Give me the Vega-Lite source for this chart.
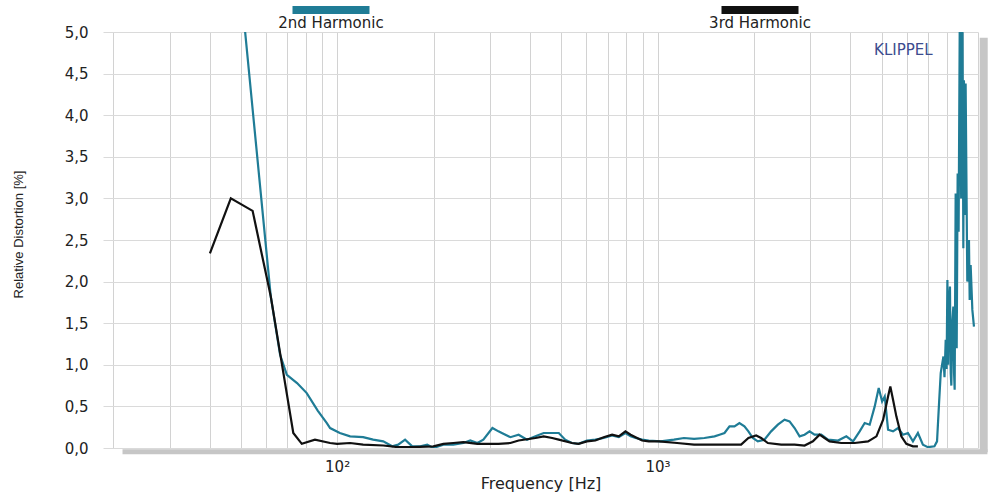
{
  "$schema": "https://vega.github.io/schema/vega-lite/v6.json",
  "width": 875,
  "height": 416,
  "autosize": {"type": "none"},
  "padding": {"left": 103, "top": 32, "right": 15, "bottom": 44},
  "background": "white",
  "config": {
    "view": {"stroke": null},
    "font": "DejaVu Sans"
  },
  "datasets": {
    "one": [{"k": 1}],
    "curves": [
      {"series": "2nd Harmonic", "f": 50, "v": 5.56},
      {"series": "2nd Harmonic", "f": 62.1, "v": 1.82},
      {"series": "2nd Harmonic", "f": 66.4, "v": 1.12},
      {"series": "2nd Harmonic", "f": 69.7, "v": 0.88},
      {"series": "2nd Harmonic", "f": 75, "v": 0.78},
      {"series": "2nd Harmonic", "f": 80.4, "v": 0.66},
      {"series": "2nd Harmonic", "f": 87, "v": 0.45},
      {"series": "2nd Harmonic", "f": 92.9, "v": 0.3},
      {"series": "2nd Harmonic", "f": 95.1, "v": 0.24},
      {"series": "2nd Harmonic", "f": 102, "v": 0.18},
      {"series": "2nd Harmonic", "f": 109.8, "v": 0.14},
      {"series": "2nd Harmonic", "f": 120.6, "v": 0.13},
      {"series": "2nd Harmonic", "f": 129.6, "v": 0.1},
      {"series": "2nd Harmonic", "f": 139.3, "v": 0.08},
      {"series": "2nd Harmonic", "f": 148.6, "v": 0.02},
      {"series": "2nd Harmonic", "f": 155.1, "v": 0.04},
      {"series": "2nd Harmonic", "f": 163, "v": 0.1},
      {"series": "2nd Harmonic", "f": 171.6, "v": 0.02},
      {"series": "2nd Harmonic", "f": 181.8, "v": 0.02},
      {"series": "2nd Harmonic", "f": 191.1, "v": 0.04},
      {"series": "2nd Harmonic", "f": 199.6, "v": 0.0},
      {"series": "2nd Harmonic", "f": 214.6, "v": 0.04},
      {"series": "2nd Harmonic", "f": 230.6, "v": 0.04},
      {"series": "2nd Harmonic", "f": 247.8, "v": 0.06},
      {"series": "2nd Harmonic", "f": 260.4, "v": 0.09},
      {"series": "2nd Harmonic", "f": 274, "v": 0.06},
      {"series": "2nd Harmonic", "f": 286, "v": 0.1},
      {"series": "2nd Harmonic", "f": 305.3, "v": 0.24},
      {"series": "2nd Harmonic", "f": 318.8, "v": 0.2},
      {"series": "2nd Harmonic", "f": 326.6, "v": 0.18},
      {"series": "2nd Harmonic", "f": 347.4, "v": 0.13},
      {"series": "2nd Harmonic", "f": 368.5, "v": 0.16},
      {"series": "2nd Harmonic", "f": 391.5, "v": 0.1},
      {"series": "2nd Harmonic", "f": 415.9, "v": 0.14},
      {"series": "2nd Harmonic", "f": 441.3, "v": 0.18},
      {"series": "2nd Harmonic", "f": 469, "v": 0.18},
      {"series": "2nd Harmonic", "f": 491.8, "v": 0.18},
      {"series": "2nd Harmonic", "f": 515.1, "v": 0.1},
      {"series": "2nd Harmonic", "f": 540.5, "v": 0.06},
      {"series": "2nd Harmonic", "f": 566.9, "v": 0.05},
      {"series": "2nd Harmonic", "f": 602, "v": 0.09},
      {"series": "2nd Harmonic", "f": 639.5, "v": 0.1},
      {"series": "2nd Harmonic", "f": 679, "v": 0.12},
      {"series": "2nd Harmonic", "f": 721.4, "v": 0.15},
      {"series": "2nd Harmonic", "f": 757, "v": 0.13},
      {"series": "2nd Harmonic", "f": 794, "v": 0.18},
      {"series": "2nd Harmonic", "f": 824, "v": 0.14},
      {"series": "2nd Harmonic", "f": 854, "v": 0.12},
      {"series": "2nd Harmonic", "f": 895, "v": 0.1},
      {"series": "2nd Harmonic", "f": 939, "v": 0.09},
      {"series": "2nd Harmonic", "f": 1022, "v": 0.08},
      {"series": "2nd Harmonic", "f": 1125, "v": 0.1},
      {"series": "2nd Harmonic", "f": 1209, "v": 0.12},
      {"series": "2nd Harmonic", "f": 1300, "v": 0.11},
      {"series": "2nd Harmonic", "f": 1400, "v": 0.12},
      {"series": "2nd Harmonic", "f": 1506, "v": 0.14},
      {"series": "2nd Harmonic", "f": 1561, "v": 0.16},
      {"series": "2nd Harmonic", "f": 1618, "v": 0.18},
      {"series": "2nd Harmonic", "f": 1677, "v": 0.26},
      {"series": "2nd Harmonic", "f": 1738, "v": 0.26},
      {"series": "2nd Harmonic", "f": 1801, "v": 0.3},
      {"series": "2nd Harmonic", "f": 1867, "v": 0.26},
      {"series": "2nd Harmonic", "f": 1921, "v": 0.2},
      {"series": "2nd Harmonic", "f": 1983, "v": 0.12},
      {"series": "2nd Harmonic", "f": 2055, "v": 0.08},
      {"series": "2nd Harmonic", "f": 2155, "v": 0.1},
      {"series": "2nd Harmonic", "f": 2262, "v": 0.2},
      {"series": "2nd Harmonic", "f": 2374, "v": 0.28},
      {"series": "2nd Harmonic", "f": 2491, "v": 0.34},
      {"series": "2nd Harmonic", "f": 2582, "v": 0.32},
      {"series": "2nd Harmonic", "f": 2677, "v": 0.24},
      {"series": "2nd Harmonic", "f": 2775, "v": 0.14},
      {"series": "2nd Harmonic", "f": 2876, "v": 0.16},
      {"series": "2nd Harmonic", "f": 2981, "v": 0.2},
      {"series": "2nd Harmonic", "f": 3090, "v": 0.16},
      {"series": "2nd Harmonic", "f": 3243, "v": 0.16},
      {"series": "2nd Harmonic", "f": 3403, "v": 0.1},
      {"series": "2nd Harmonic", "f": 3658, "v": 0.09},
      {"series": "2nd Harmonic", "f": 3883, "v": 0.14},
      {"series": "2nd Harmonic", "f": 4075, "v": 0.08},
      {"series": "2nd Harmonic", "f": 4273, "v": 0.2},
      {"series": "2nd Harmonic", "f": 4430, "v": 0.3},
      {"series": "2nd Harmonic", "f": 4592, "v": 0.28},
      {"series": "2nd Harmonic", "f": 4761, "v": 0.5},
      {"series": "2nd Harmonic", "f": 4900, "v": 0.72},
      {"series": "2nd Harmonic", "f": 5021, "v": 0.56},
      {"series": "2nd Harmonic", "f": 5116, "v": 0.62},
      {"series": "2nd Harmonic", "f": 5240, "v": 0.22},
      {"series": "2nd Harmonic", "f": 5431, "v": 0.2},
      {"series": "2nd Harmonic", "f": 5629, "v": 0.24},
      {"series": "2nd Harmonic", "f": 5834, "v": 0.16},
      {"series": "2nd Harmonic", "f": 6046, "v": 0.18},
      {"series": "2nd Harmonic", "f": 6266, "v": 0.08},
      {"series": "2nd Harmonic", "f": 6494, "v": 0.18},
      {"series": "2nd Harmonic", "f": 6731, "v": 0.04},
      {"series": "2nd Harmonic", "f": 6976, "v": 0.01},
      {"series": "2nd Harmonic", "f": 7313, "v": 0.02},
      {"series": "2nd Harmonic", "f": 7450, "v": 0.08},
      {"series": "2nd Harmonic", "f": 7559, "v": 0.54},
      {"series": "2nd Harmonic", "f": 7650, "v": 0.9},
      {"series": "2nd Harmonic", "f": 7800, "v": 1.1},
      {"series": "2nd Harmonic", "f": 7860, "v": 0.85},
      {"series": "2nd Harmonic", "f": 7929, "v": 1.3},
      {"series": "2nd Harmonic", "f": 7980, "v": 0.95},
      {"series": "2nd Harmonic", "f": 8026, "v": 2.02},
      {"series": "2nd Harmonic", "f": 8070, "v": 1.0},
      {"series": "2nd Harmonic", "f": 8110, "v": 1.7},
      {"series": "2nd Harmonic", "f": 8175, "v": 1.94},
      {"series": "2nd Harmonic", "f": 8220, "v": 0.9},
      {"series": "2nd Harmonic", "f": 8257, "v": 0.75},
      {"series": "2nd Harmonic", "f": 8310, "v": 1.5},
      {"series": "2nd Harmonic", "f": 8376, "v": 1.7},
      {"series": "2nd Harmonic", "f": 8420, "v": 0.9},
      {"series": "2nd Harmonic", "f": 8456, "v": 0.7},
      {"series": "2nd Harmonic", "f": 8517, "v": 3.06},
      {"series": "2nd Harmonic", "f": 8580, "v": 1.2},
      {"series": "2nd Harmonic", "f": 8640, "v": 3.3},
      {"series": "2nd Harmonic", "f": 8700, "v": 2.6},
      {"series": "2nd Harmonic", "f": 8785, "v": 5.6},
      {"series": "2nd Harmonic", "f": 8860, "v": 3.0},
      {"series": "2nd Harmonic", "f": 8934, "v": 5.6},
      {"series": "2nd Harmonic", "f": 9000, "v": 2.4},
      {"series": "2nd Harmonic", "f": 9039, "v": 4.42},
      {"series": "2nd Harmonic", "f": 9100, "v": 2.8},
      {"series": "2nd Harmonic", "f": 9149, "v": 4.38},
      {"series": "2nd Harmonic", "f": 9260, "v": 2.0},
      {"series": "2nd Harmonic", "f": 9371, "v": 2.5},
      {"series": "2nd Harmonic", "f": 9420, "v": 1.78},
      {"series": "2nd Harmonic", "f": 9485, "v": 2.2},
      {"series": "2nd Harmonic", "f": 9602, "v": 1.66},
      {"series": "2nd Harmonic", "f": 9714, "v": 1.46},
      {"series": "3rd Harmonic", "f": 40.1, "v": 2.34},
      {"series": "3rd Harmonic", "f": 46.6, "v": 3.0},
      {"series": "3rd Harmonic", "f": 54.5, "v": 2.85},
      {"series": "3rd Harmonic", "f": 62.1, "v": 1.82},
      {"series": "3rd Harmonic", "f": 66.4, "v": 1.14},
      {"series": "3rd Harmonic", "f": 73, "v": 0.18},
      {"series": "3rd Harmonic", "f": 77.6, "v": 0.05},
      {"series": "3rd Harmonic", "f": 85.3, "v": 0.1},
      {"series": "3rd Harmonic", "f": 95.1, "v": 0.06},
      {"series": "3rd Harmonic", "f": 100, "v": 0.05},
      {"series": "3rd Harmonic", "f": 109.8, "v": 0.06},
      {"series": "3rd Harmonic", "f": 120.6, "v": 0.04},
      {"series": "3rd Harmonic", "f": 139.3, "v": 0.03},
      {"series": "3rd Harmonic", "f": 155, "v": 0.01},
      {"series": "3rd Harmonic", "f": 171.6, "v": 0.01},
      {"series": "3rd Harmonic", "f": 199.6, "v": 0.02},
      {"series": "3rd Harmonic", "f": 214.6, "v": 0.05},
      {"series": "3rd Harmonic", "f": 230.6, "v": 0.06},
      {"series": "3rd Harmonic", "f": 247.8, "v": 0.07},
      {"series": "3rd Harmonic", "f": 274, "v": 0.05},
      {"series": "3rd Harmonic", "f": 305, "v": 0.05},
      {"series": "3rd Harmonic", "f": 318.8, "v": 0.05},
      {"series": "3rd Harmonic", "f": 347.4, "v": 0.06},
      {"series": "3rd Harmonic", "f": 368.5, "v": 0.09},
      {"series": "3rd Harmonic", "f": 415.9, "v": 0.12},
      {"series": "3rd Harmonic", "f": 441.3, "v": 0.14},
      {"series": "3rd Harmonic", "f": 469, "v": 0.12},
      {"series": "3rd Harmonic", "f": 491.8, "v": 0.1},
      {"series": "3rd Harmonic", "f": 540.5, "v": 0.06},
      {"series": "3rd Harmonic", "f": 566.9, "v": 0.05},
      {"series": "3rd Harmonic", "f": 602, "v": 0.08},
      {"series": "3rd Harmonic", "f": 639.5, "v": 0.09},
      {"series": "3rd Harmonic", "f": 679, "v": 0.13},
      {"series": "3rd Harmonic", "f": 721.4, "v": 0.16},
      {"series": "3rd Harmonic", "f": 757, "v": 0.14},
      {"series": "3rd Harmonic", "f": 794, "v": 0.2},
      {"series": "3rd Harmonic", "f": 824, "v": 0.16},
      {"series": "3rd Harmonic", "f": 854, "v": 0.13},
      {"series": "3rd Harmonic", "f": 895, "v": 0.09},
      {"series": "3rd Harmonic", "f": 939, "v": 0.08},
      {"series": "3rd Harmonic", "f": 1011, "v": 0.08},
      {"series": "3rd Harmonic", "f": 1151, "v": 0.06},
      {"series": "3rd Harmonic", "f": 1300, "v": 0.04},
      {"series": "3rd Harmonic", "f": 1470, "v": 0.04},
      {"series": "3rd Harmonic", "f": 1657, "v": 0.04},
      {"series": "3rd Harmonic", "f": 1823, "v": 0.04},
      {"series": "3rd Harmonic", "f": 1921, "v": 0.12},
      {"series": "3rd Harmonic", "f": 2031, "v": 0.15},
      {"series": "3rd Harmonic", "f": 2105, "v": 0.12},
      {"series": "3rd Harmonic", "f": 2209, "v": 0.06},
      {"series": "3rd Harmonic", "f": 2432, "v": 0.04},
      {"series": "3rd Harmonic", "f": 2677, "v": 0.04},
      {"series": "3rd Harmonic", "f": 2876, "v": 0.03},
      {"series": "3rd Harmonic", "f": 3054, "v": 0.08},
      {"series": "3rd Harmonic", "f": 3204, "v": 0.16},
      {"series": "3rd Harmonic", "f": 3321, "v": 0.12},
      {"series": "3rd Harmonic", "f": 3442, "v": 0.08},
      {"series": "3rd Harmonic", "f": 3745, "v": 0.06},
      {"series": "3rd Harmonic", "f": 4122, "v": 0.06},
      {"series": "3rd Harmonic", "f": 4538, "v": 0.08},
      {"series": "3rd Harmonic", "f": 4821, "v": 0.14},
      {"series": "3rd Harmonic", "f": 5058, "v": 0.34},
      {"series": "3rd Harmonic", "f": 5240, "v": 0.62},
      {"series": "3rd Harmonic", "f": 5326, "v": 0.74},
      {"series": "3rd Harmonic", "f": 5431, "v": 0.58},
      {"series": "3rd Harmonic", "f": 5562, "v": 0.38},
      {"series": "3rd Harmonic", "f": 5764, "v": 0.14},
      {"series": "3rd Harmonic", "f": 5974, "v": 0.05},
      {"series": "3rd Harmonic", "f": 6266, "v": 0.02},
      {"series": "3rd Harmonic", "f": 6494, "v": 0.02}
    ]
  },
  "layer": [
    {
      "data": {"name": "one"},
      "mark": {"type": "rule", "color": "#c6c6c6", "strokeWidth": 8, "clip": false},
      "encoding": {
        "x": {"datum": 10420, "type": "quantitative"},
        "y": {"datum": -0.05, "type": "quantitative"},
        "y2": {"datum": 4.93}
      }
    },
    {
      "data": {"name": "one"},
      "mark": {"type": "rule", "color": "#c6c6c6", "strokeWidth": 5, "clip": false},
      "encoding": {
        "x": {"datum": 21.4, "type": "quantitative"},
        "x2": {"datum": 10700},
        "y": {"datum": -0.045, "type": "quantitative"}
      }
    },
    {
      "data": {"name": "one"},
      "mark": {"type": "text", "text": "KLIPPEL", "color": "#3d4c8e", "fontSize": 15, "font": "DejaVu Sans", "align": "center", "baseline": "middle", "clip": false},
      "encoding": {
        "x": {"datum": 5850, "type": "quantitative"},
        "y": {"datum": 4.78, "type": "quantitative"}
      }
    },
    {
      "data": {"name": "curves"},
      "mark": {"type": "line", "strokeWidth": 2.2, "clip": true},
      "encoding": {
        "x": {
          "field": "f",
          "type": "quantitative",
          "scale": {"type": "log", "domain": [18.6, 10000], "nice": false},
          "axis": {
            "values": [20, 30, 40, 50, 60, 70, 80, 90, 100, 200, 300, 400, 500, 600, 700, 800, 900, 1000, 2000, 3000, 4000, 5000, 6000, 7000, 8000, 9000, 10000],
            "labelExpr": "datum.value == 100 ? '10²' : (datum.value == 1000 ? '10³' : '')",
            "labelOverlap": false,
            "labelFlush": false,
            "labelFont": "DejaVu Sans",
            "labelFontSize": 15,
            "labelColor": "#222222",
            "labelPadding": 11,
            "ticks": false,
            "domain": false,
            "grid": true,
            "gridColor": "#d2d2d2",
            "gridWidth": 1,
            "title": "Frequency  [Hz]",
            "titleFont": "DejaVu Sans",
            "titleFontSize": 16,
            "titleFontWeight": "normal",
            "titleColor": "#222222",
            "titleY": 35,
            "titleBaseline": "middle"
          }
        },
        "y": {
          "field": "v",
          "type": "quantitative",
          "scale": {"domain": [0, 5], "nice": false},
          "axis": {
            "values": [0, 0.5, 1, 1.5, 2, 2.5, 3, 3.5, 4, 4.5, 5],
            "labelExpr": "replace(format(datum.value, '.1f'), '.', ',')",
            "labelFont": "DejaVu Sans",
            "labelFontSize": 15,
            "labelColor": "#222222",
            "labelPadding": 15,
            "ticks": false,
            "domain": false,
            "grid": true,
            "gridColor": "#dadada",
            "gridWidth": 1,
            "title": "Relative Distortion  [%]",
            "titleFont": "Liberation Sans",
            "titleFontSize": 13,
            "titleFontWeight": "normal",
            "titleColor": "#222222",
            "titleAngle": -90,
            "titleX": -85,
            "titleY": 202,
            "titleAlign": "center",
            "titleBaseline": "middle"
          }
        },
        "color": {
          "field": "series",
          "type": "nominal",
          "scale": {"domain": ["2nd Harmonic", "3rd Harmonic"], "range": ["#1f7c96", "#111111"]},
          "legend": {
            "title": null,
            "orient": "none",
            "legendX": 168,
            "legendY": -22,
            "direction": "horizontal",
            "columns": 2,
            "columnPadding": 316,
            "symbolType": "M-1,-0.104H1V0.104H-1Z",
            "symbolSize": 5929,
            "symbolStrokeWidth": 0,
            "labelFont": "DejaVu Sans",
            "labelFontSize": 15,
            "labelColor": "#222222",
            "encode": {
              "symbols": {
                "update": {
                  "x": {"value": 60},
                  "y": {"value": 0},
                  "fill": {"scale": "color", "field": "value"},
                  "stroke": {"value": "transparent"},
                  "strokeWidth": {"value": 0},
                  "opacity": {"value": 1}
                }
              },
              "labels": {
                "update": {
                  "x": {"value": 60},
                  "y": {"value": 13},
                  "align": {"value": "center"},
                  "baseline": {"value": "middle"}
                }
              }
            }
          }
        }
      }
    }
  ]
}
